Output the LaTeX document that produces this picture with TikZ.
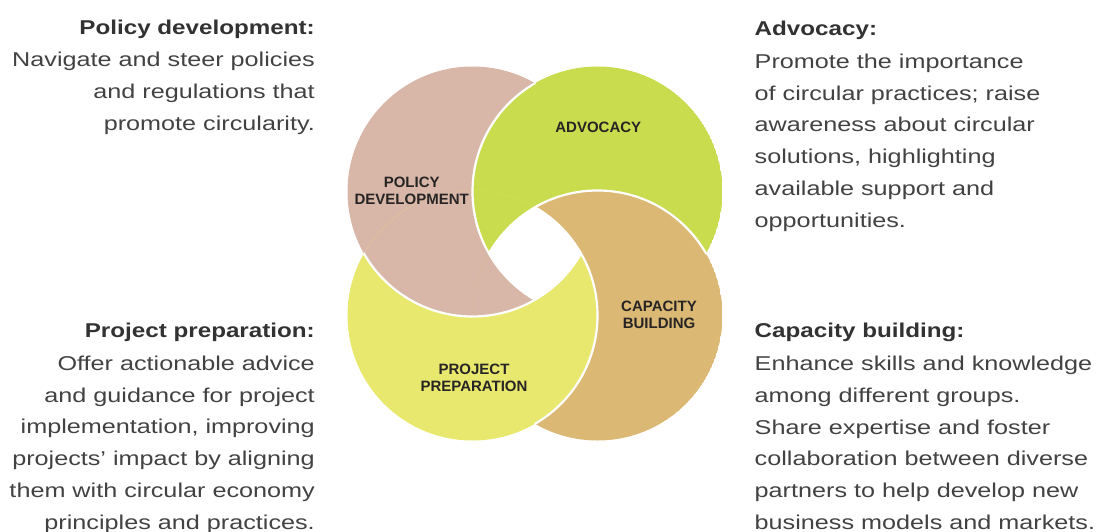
\documentclass[tikz,border=0pt]{standalone}
\usepackage{fontspec}
\setmainfont{Liberation Sans}
\newfontfamily\bodyfont{Liberation Sans}[FakeStretch=1.26]
\newfontfamily\headfont{Liberation Sans}[FakeStretch=1.21]
\newfontfamily\labelfont{Liberation Sans}
\definecolor{pinkc}{RGB}{216,183,169}
\definecolor{greenc}{RGB}{200,220,78}
\definecolor{yellowc}{RGB}{232,232,110}
\definecolor{tanc}{RGB}{219,184,115}
\definecolor{bodygray}{RGB}{66,66,66}
\definecolor{headgray}{RGB}{50,50,50}
\definecolor{labgray}{RGB}{38,36,36}
\newcommand\hd[1]{{\headfont\bfseries\color{headgray}\rule{0pt}{15pt}#1}}
\tikzset{
  desc/.style={inner sep=0pt, font=\bodyfont\fontsize{20}{31.75}\selectfont, text=bodygray},
  descL/.style={desc, anchor=north east, align=right},
  descR/.style={desc, anchor=north west, align=left},
  lab/.style={font=\labelfont\bfseries\fontsize{15}{16.5}\selectfont, align=center, text=labgray, inner sep=0pt},
  seam/.style={draw=white, line width=2.2pt}
}
\def\rad{125pt}
\begin{document}
\begin{tikzpicture}[x=1pt,y=-1pt]
\useasboundingbox (0,0) rectangle (1102,532);
\coordinate (cP) at (472.5,191.5);
\coordinate (cG) at (597.5,191.5);
\coordinate (cY) at (472.5,315.5);
\coordinate (cT) at (597.5,315.5);
% crescents: each disk minus the next disk
\begin{scope}\clip (cP) circle[radius=\rad];
  \fill[pinkc, even odd rule] (cP) circle[radius=\rad] (cG) circle[radius=\rad];\end{scope}
\begin{scope}\clip (cG) circle[radius=\rad];
  \fill[greenc, even odd rule] (cG) circle[radius=\rad] (cT) circle[radius=\rad];\end{scope}
\begin{scope}\clip (cT) circle[radius=\rad];
  \fill[tanc, even odd rule] (cT) circle[radius=\rad] (cY) circle[radius=\rad];\end{scope}
\begin{scope}\clip (cY) circle[radius=\rad];
  \fill[yellowc, even odd rule] (cY) circle[radius=\rad] (cP) circle[radius=\rad];\end{scope}
% white seams where one crescent lies over another
\begin{scope}\clip (cP) circle[radius=\rad]; \draw[seam] (cG) circle[radius=\rad];\end{scope}
\begin{scope}\clip (cG) circle[radius=\rad]; \draw[seam] (cT) circle[radius=\rad];\end{scope}
\begin{scope}\clip (cT) circle[radius=\rad]; \draw[seam] (cY) circle[radius=\rad];\end{scope}
\begin{scope}\clip (cY) circle[radius=\rad]; \draw[seam] (cP) circle[radius=\rad];\end{scope}
% labels in the ring
\node[lab] (advlab) at (598.3,127.3) {ADVOCACY};
\node[lab] (pollab) at (411.7,190.8) {POLICY\\DEVELOPMENT};
\node[lab] (caplab) at (659,314.7) {CAPACITY\\BUILDING};
\node[lab] (prolab) at (474,378) {PROJECT\\PREPARATION};
% descriptions
\node[descL] (poltxt) at (315,19) {\hd{Policy development:}\\[1pt]
  Navigate and steer policies\\ and regulations that\\ promote circularity.};
\node[descR] (advtxt) at (754.5,20.5) {\hd{Advocacy:}\\[1pt]
  Promote the importance\\ of circular practices; raise\\ awareness about circular\\
  solutions, highlighting\\ available support and\\ opportunities.};
\node[descL] (protxt) at (315,322.3) {\hd{Project preparation:}\\[1pt]
  Offer actionable advice\\ and guidance for project\\ implementation, improving\\
  projects’ impact by aligning\\ them with circular economy\\ principles and practices.};
\node[descR] (captxt) at (754.5,322.7) {\hd{Capacity building:}\\[1pt]
  Enhance skills and knowledge\\ among different groups.\\ Share expertise and foster\\
  collaboration between diverse\\ partners to help develop new\\ business models and markets.};
\end{tikzpicture}
\end{document}
